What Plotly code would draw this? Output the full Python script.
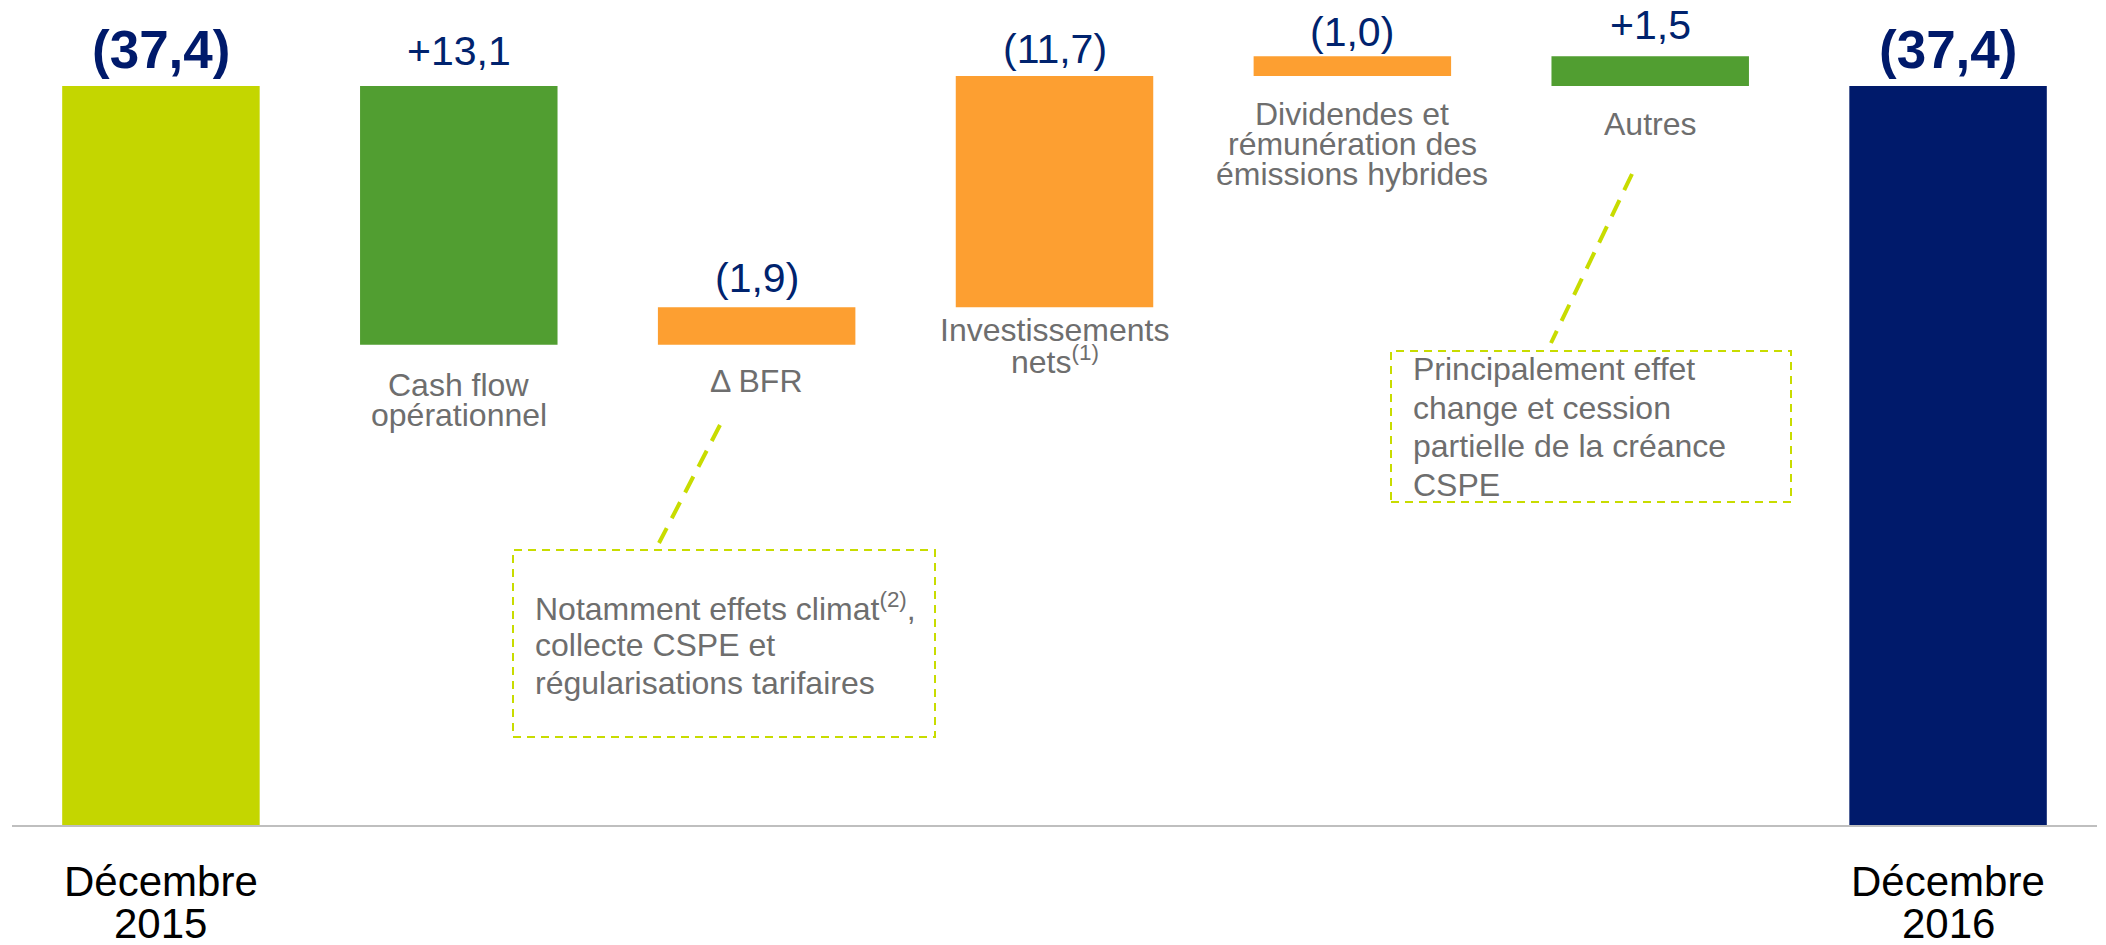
import plotly.graph_objects as go

# ---------------- data ----------------
categories = ["Décembre 2015", "Cash flow opérationnel", "Δ BFR", "Investissements nets",
              "Dividendes et rémunération des émissions hybrides", "Autres", "Décembre 2016"]
kinds = ["total", "change", "change", "change", "change", "change", "total"]
start_net_debt = 37.4          # (37,4) Md€
cash_impacts = [13.1, -1.9, -11.7, -1.0, 1.5]   # effect on net debt (positive = reduction)
end_net_debt = 37.4
value_labels = ["(37,4)", "+13,1", "(1,9)", "(11,7)", "(1,0)", "+1,5", "(37,4)"]
bar_labels = ["", "Cash flow\nopérationnel", "Δ BFR", "Investissements\nnets<sup>(1)</sup>",
              "Dividendes et\nrémunération des\némissions hybrides", "Autres", ""]
bottom_labels = ["Décembre\n2015", "", "", "", "", "", "Décembre\n2016"]
note_bfr = ["Notamment effets climat<sup>(2)</sup>,", "collecte CSPE et", "régularisations tarifaires"]
note_autres = ["Principalement effet", "change et cession", "partielle de la créance", "CSPE"]

# ---------------- styles ----------------
bar_colors = ["#C4D600", "#519E31", "#FD9F31", "#FD9F31", "#FD9F31", "#519E31", "#001A6B"]
NAVY = "#00236E"
GRAY = "#6E6E6E"
LIME = "#C8DC00"
FONT = "Liberation Sans, Arial, sans-serif"

# page geometry (page is offset by 8px body margin)
W, H = 2106, 945
ML, MR, MT = 4, 17, 0
PLOT_W = W - ML - MR
PLOT_H = 817
MB = H - MT - PLOT_H
PAGE_OFF = 8
PX_PER_UNIT = 19.76


def px(xp):   # page pixel x -> paper
    return (xp - PAGE_OFF - ML) / PLOT_W


def py(yp):   # page pixel y -> paper
    return (PAGE_OFF + MT + PLOT_H - yp) / PLOT_H


# waterfall geometry computed from data
bases, heights = [], []
level = start_net_debt
ci = 0
for k in kinds:
    if k == "total":
        val = start_net_debt if not bases else end_net_debt
        bases.append(0)
        heights.append(val)
    else:
        new_level = level - cash_impacts[ci]
        bases.append(min(level, new_level))
        heights.append(abs(cash_impacts[ci]))
        level = new_level
        ci += 1
tops = [b + h for b, h in zip(bases, heights)]

fig = go.Figure()
fig.add_trace(go.Bar(
    x=categories, y=heights, base=bases,
    marker=dict(color=bar_colors, line=dict(width=0)),
    hoverinfo="skip",
))

annotations = []
value_offsets = [36, 35, 29, 27, 24, 31, 36]
for i, (c, t, lab) in enumerate(zip(categories, tops, value_labels)):
    bold = kinds[i] == "total"
    annotations.append(dict(
        x=c, y=t, xref="x", yref="y", text=f"<b>{lab}</b>" if bold else lab,
        showarrow=False, yanchor="middle", xanchor="center", yshift=value_offsets[i],
        font=dict(family=FONT, size=53 if bold else 41, color="#001A6B" if bold else NAVY),
    ))

label_first_offset = [0, 40, 36, 23, 38, 38, 0]
for i, (c, b, lab) in enumerate(zip(categories, bases, bar_labels)):
    if not lab:
        continue
    for j, line in enumerate(lab.split("\n")):
        annotations.append(dict(
            x=c, y=b, xref="x", yref="y", text=line, showarrow=False,
            yanchor="middle", xanchor="center", yshift=-(label_first_offset[i] + 30 * j),
            font=dict(family=FONT, size=32, color=GRAY),
        ))

for c, lab in zip(categories, bottom_labels):
    if not lab:
        continue
    for j, line in enumerate(lab.split("\n")):
        annotations.append(dict(
            x=c, y=0, xref="x", yref="y", text=line, showarrow=False,
            yanchor="middle", xanchor="center", yshift=-(56 + 42 * j),
            font=dict(family=FONT, size=42, color="#000000"),
        ))

# callout notes
for j, line in enumerate(note_bfr):
    annotations.append(dict(
        x=px(533), y=py(607 + 38 * j), xref="paper", yref="paper", text=line,
        showarrow=False, xanchor="left", yanchor="middle",
        font=dict(family=FONT, size=32, color=GRAY),
    ))
for j, line in enumerate(note_autres):
    annotations.append(dict(
        x=px(1411), y=py(369 + 38.5 * j), xref="paper", yref="paper", text=line,
        showarrow=False, xanchor="left", yanchor="middle",
        font=dict(family=FONT, size=32, color=GRAY),
    ))

shapes = [
    dict(type="rect", xref="paper", yref="paper", x0=px(513), x1=px(935), y0=py(737), y1=py(550),
         line=dict(color=LIME, width=2, dash="8px,6px"), fillcolor="rgba(0,0,0,0)"),
    dict(type="line", xref="paper", yref="paper", x0=px(720), y0=py(425), x1=px(659), y1=py(543),
         line=dict(color=LIME, width=4, dash="18px,11px")),
    dict(type="rect", xref="paper", yref="paper", x0=px(1391), x1=px(1791), y0=py(502), y1=py(351),
         line=dict(color=LIME, width=2, dash="8px,6px"), fillcolor="rgba(0,0,0,0)"),
    dict(type="line", xref="paper", yref="paper", x0=px(1632), y0=py(174), x1=px(1551), y1=py(343),
         line=dict(color=LIME, width=4, dash="18px,11px")),
]

fig.update_layout(
    width=W, height=H,
    margin=dict(l=ML, r=MR, t=MT, b=MB, pad=0),
    paper_bgcolor="white", plot_bgcolor="white",
    showlegend=False, bargap=0.337,
    annotations=annotations, shapes=shapes,
    font=dict(family=FONT),
    xaxis=dict(type="category", range=[-0.5, 6.5], showticklabels=False, ticks="",
               showgrid=False, zeroline=False, showline=True, linecolor="#BFBFBF", linewidth=2),
    yaxis=dict(range=[0, PLOT_H / PX_PER_UNIT], visible=False, showgrid=False, zeroline=False),
)

fig.write_html("out.html")
